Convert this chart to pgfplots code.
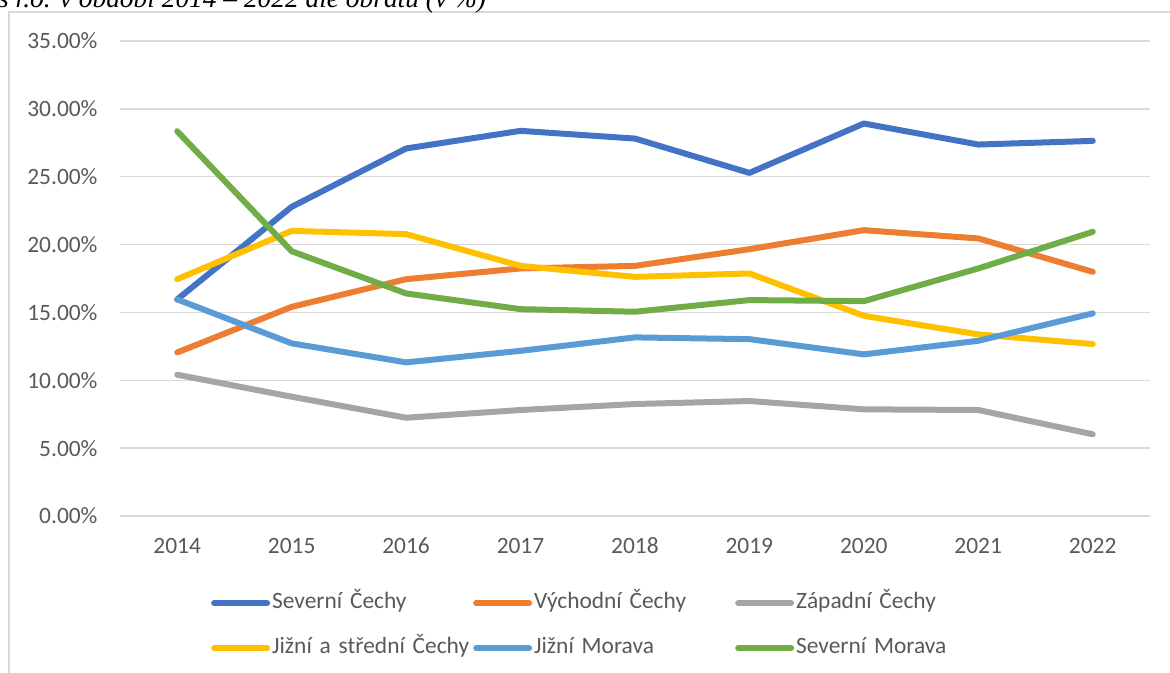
\documentclass[border=0pt]{standalone}
\usepackage{fontspec}
\setmainfont{Carlito}
\newfontfamily\titlefont{Liberation Serif}
\usepackage{pgfplots}
\pgfplotsset{compat=1.18}
\definecolor{cA}{HTML}{4472C4}
\definecolor{cB}{HTML}{ED7D31}
\definecolor{cC}{HTML}{A5A5A5}
\definecolor{cD}{HTML}{FFC000}
\definecolor{cE}{HTML}{5B9BD5}
\definecolor{cF}{HTML}{70AD47}
\definecolor{gridc}{HTML}{D9D9D9}
\definecolor{txt}{HTML}{595959}
\begin{document}
\begin{tikzpicture}
\useasboundingbox (0,0) rectangle (1170bp,673bp);
\draw[gridc, line width=1.5bp] (9bp,661bp) rectangle (1200bp,-20bp);
\node[anchor=base west, inner sep=0pt, font={\titlefont\itshape\fontsize{27.5}{32}\selectfont}] at (-2bp,665bp) {s r.o. v období 2014 – 2022 dle obratu (v \%)};
\begin{axis}[
  scale only axis, width=1030bp, height=475bp,
  at={(120bp,157bp)}, anchor=south west,
  xmin=2013.5, xmax=2022.5, ymin=0, ymax=35,
  xtick={2014,...,2022}, ytick={0,5,...,35},
  axis line style={draw=none},
  major tick length=0pt,
  ymajorgrids, grid style={gridc, line width=1.5bp},
  /pgf/number format/assume math mode=true,
  xticklabel style={/pgf/number format/1000 sep=, font=\fontsize{23.5}{27}\selectfont, text=txt, anchor=north, text height=16bp, text depth=0bp, yshift=-18bp},
  yticklabel={\pgfmathprintnumber[fixed,fixed zerofill,precision=2]{\tick}\%},
  yticklabel style={font=\fontsize{23.5}{27}\selectfont, text=txt, xshift=-19bp},
  every axis plot/.append style={line width=6bp, line join=round, line cap=round},
  legend columns=3,
  legend image code/.code={\draw[#1, line width=6bp, line cap=round] (0bp,0bp) -- (53bp,0bp);},
  legend style={draw=none, fill=none, at={(0.0883,-0.16)}, anchor=north west,
    inner sep=0pt, column sep=0pt, row sep=23bp,
    font=\fontsize{23.5}{27}\selectfont, text=txt,
    nodes={inner xsep=2bp, inner ysep=0pt, text width=199bp, align=left, text height=16bp, text depth=6bp}},
  legend cell align=left,
]
\addplot[cA] coordinates {(2014,15.96)(2015,22.78)(2016,27.08)(2017,28.38)(2018,27.81)(2019,25.28)(2020,28.92)(2021,27.37)(2022,27.64)};
\addlegendentry{Severní Čechy}
\addplot[cB] coordinates {(2014,12.05)(2015,15.41)(2016,17.45)(2017,18.24)(2018,18.43)(2019,19.66)(2020,21.06)(2021,20.45)(2022,17.99)};
\addlegendentry{Východní Čechy}
\addplot[cC] coordinates {(2014,10.41)(2015,8.79)(2016,7.24)(2017,7.81)(2018,8.25)(2019,8.47)(2020,7.86)(2021,7.81)(2022,6.02)};
\addlegendentry{Západní Čechy}
\addplot[cD] coordinates {(2014,17.45)(2015,21.01)(2016,20.77)(2017,18.43)(2018,17.62)(2019,17.87)(2020,14.75)(2021,13.38)(2022,12.67)};
\addlegendentry{Jižní a střední Čechy}
\addplot[cE] coordinates {(2014,15.96)(2015,12.72)(2016,11.32)(2017,12.17)(2018,13.16)(2019,13.03)(2020,11.91)(2021,12.91)(2022,14.93)};
\addlegendentry{Jižní Morava}
\addplot[cF] coordinates {(2014,28.35)(2015,19.51)(2016,16.40)(2017,15.24)(2018,15.05)(2019,15.91)(2020,15.83)(2021,18.24)(2022,20.94)};
\addlegendentry{Severní Morava}
\end{axis}
\end{tikzpicture}
\end{document}
